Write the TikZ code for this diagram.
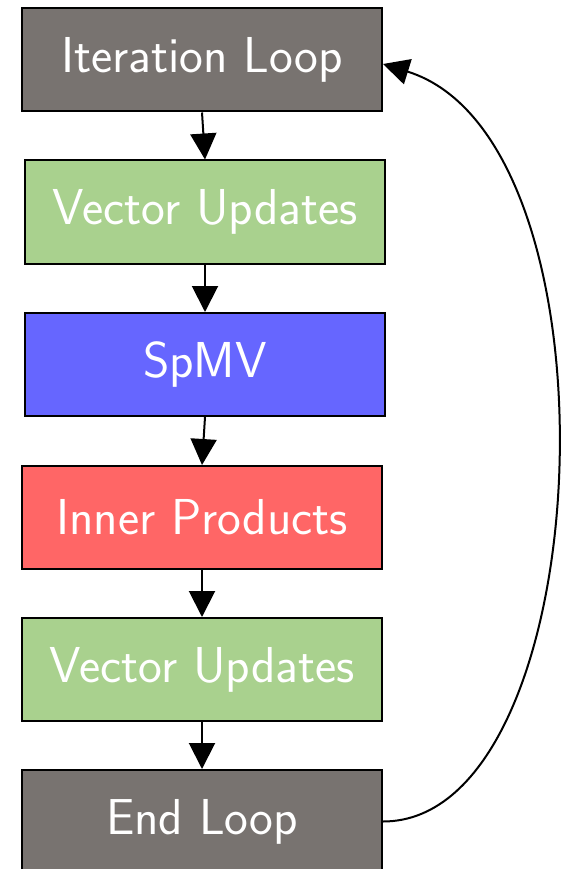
\documentclass[tikz,border=0pt]{standalone}
\usepackage{fontspec}
\usetikzlibrary{arrows.meta}
\definecolor{loopgray}{RGB}{120,115,112}
\definecolor{vecgreen}{RGB}{169,209,142}
\definecolor{spmvblue}{RGB}{102,102,255}
\definecolor{dotred}{RGB}{255,102,102}
\tikzset{
  stage/.style={draw=black, line width=2pt, minimum width=360pt, minimum height=103pt,
    inner sep=0pt, text=white, font=\sffamily\fontsize{50.5}{54}\selectfont},
  flow/.style={line width=2pt, -{Triangle[length=26pt,width=26pt]}}
}
\begin{document}
\begin{tikzpicture}[x=1pt,y=-1pt]
\useasboundingbox (0,0) rectangle (567,869);
\node[stage, fill=loopgray] (iter) at (202,60) {Iteration Loop};
\node[stage, fill=vecgreen] (vec1) at (205,212) {Vector Updates};
\node[stage, fill=spmvblue] (spmv) at (205,364.5) {SpMV};
\node[stage, fill=dotred] (inner) at (202,517.5) {Inner Products};
\node[stage, fill=vecgreen] (vec2) at (202,669.5) {Vector Updates};
\node[stage, fill=loopgray] (endl) at (202,821.5) {End Loop};
\draw[flow] (iter.south) -- (vec1.north);
\draw[flow] (vec1.south) -- (spmv.north);
\draw[flow] (spmv.south) -- (inner.north);
\draw[flow] (inner.south) -- (vec2.north);
\draw[flow] (vec2.south) -- (endl.north);
\draw[flow] (endl.east) .. controls (600,821.5) and (628,140) .. ([yshift=-4pt]iter.east);
\end{tikzpicture}
\end{document}
